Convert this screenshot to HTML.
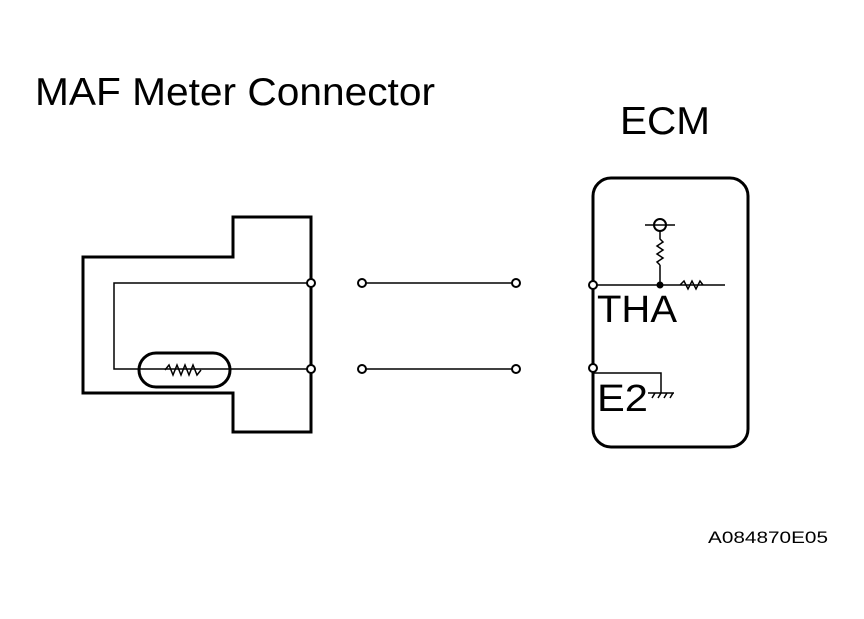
<!DOCTYPE html>
<html><head><style>body{margin:0;background:#fff}svg{display:block}</style></head><body>
<svg width="864" height="619" viewBox="0 0 864 619" xmlns="http://www.w3.org/2000/svg" font-family="Liberation Sans, sans-serif">
<rect width="864" height="619" fill="#fff"/>
<text x="35" y="105" font-size="39" textLength="400" lengthAdjust="spacingAndGlyphs">MAF Meter Connector</text>
<text x="620" y="134" font-size="39" textLength="90" lengthAdjust="spacingAndGlyphs">ECM</text>
<text x="708" y="543" font-size="17" textLength="120" lengthAdjust="spacingAndGlyphs">A084870E05</text>
<g fill="none" stroke="#000">
<path d="M233 217 H311 V432 H233 V393 H83 V257 H233 Z" stroke-width="3"/>
<path d="M307 283 H114 V369 H307" stroke-width="1.5"/>
<rect x="139" y="353" width="91" height="34" rx="17" stroke-width="3"/>
<path d="M165 370 l4 -5 l4 10 l4 -10 l4 10 l4 -10 l4 10 l4 -10 l4 10 l4 -5" stroke-width="1.5"/>
<path d="M362 283 H516 M362 369 H516" stroke-width="1.5"/>
<rect x="593" y="178" width="155" height="269" rx="18" stroke-width="3"/>
<path d="M593 285 H725 M660 285 V265 M660 265 l-3 -3 l6 -4 l-6 -4 l6 -4 l-6 -4 l6 -4 l-3 -3 V231 M645 225 H675 M680 285 l4 -4 l4 8 l4 -8 l4 8 l4 -8 l3 4" stroke-width="1.5"/>
<circle cx="660" cy="225" r="6" stroke-width="2"/>
<path d="M593 373 H661 V393 M648 393 H674 M652 398 l3 -5 M658 398 l3 -5 M664 398 l3 -5 M670 398 l3 -5" stroke-width="1.5"/>
</g>
<circle cx="660" cy="285" r="3.5" fill="#000"/>
<g fill="#fff" stroke="#000" stroke-width="2">
<circle cx="311" cy="283" r="4"/><circle cx="311" cy="369" r="4"/>
<circle cx="362" cy="283" r="4"/><circle cx="362" cy="369" r="4"/>
<circle cx="516" cy="283" r="4"/><circle cx="516" cy="369" r="4"/>
<circle cx="593" cy="285" r="4"/><circle cx="593" cy="368" r="4"/>
</g>
<text x="597" y="322" font-size="38" textLength="80" lengthAdjust="spacingAndGlyphs">THA</text>
<text x="597" y="411" font-size="38" textLength="51" lengthAdjust="spacingAndGlyphs">E2</text>
</svg>
</body></html>
